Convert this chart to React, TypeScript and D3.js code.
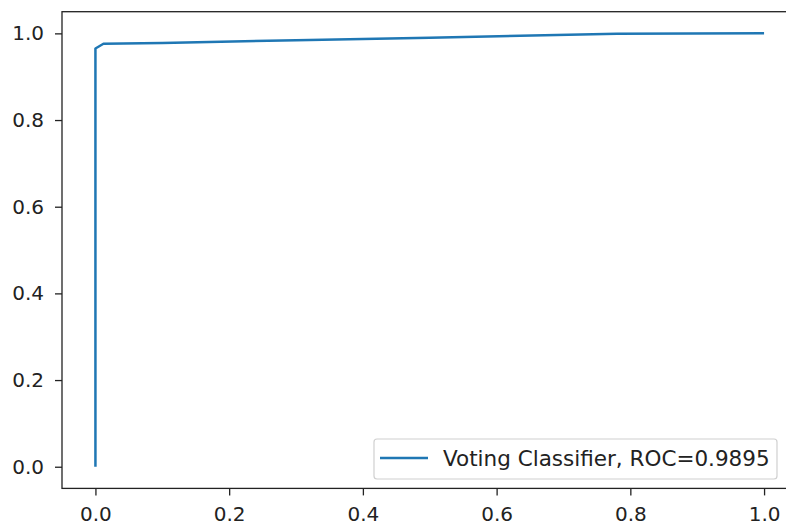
import React, { useEffect, useRef } from "react";
import * as d3 from "d3";

// ROC curve points
const fpr = [0, 0, 0.012, 0.1, 0.3, 0.5, 0.78, 1.0];
const tpr = [0, 0.965, 0.976, 0.978, 0.984, 0.99, 0.999, 1.0];
const ticks = [0, 0.2, 0.4, 0.6, 0.8, 1.0];
const label = "Voting Classifier, ROC=0.9895";

const W = 786;
const H = 527;
const FONT = "DejaVu Sans, sans-serif";

const App = () => {
  const svgRef = useRef<SVGSVGElement>(null);

  useEffect(() => {
    const svg = d3.select(svgRef.current);
    svg.selectAll("*").remove();

    const x = d3.scaleLinear().domain([-0.05, 1.05]).range([62, 797.5]);
    const y = d3.scaleLinear().domain([-0.05, 1.05]).range([488.4, 11.7]);

    const xAxis = d3
      .axisBottom(x)
      .tickValues(ticks)
      .tickFormat(d3.format(".1f"))
      .tickSize(7)
      .tickPadding(11);
    const yAxis = d3
      .axisLeft(y)
      .tickValues(ticks)
      .tickFormat(d3.format(".1f"))
      .tickSize(7)
      .tickPadding(11);

    const styleAxis = (g) => {
      g.select(".domain").remove();
      g.selectAll("line").attr("stroke", "#222").attr("stroke-width", 1.3);
      g.selectAll("text")
        .attr("fill", "#222")
        .style("font-family", FONT)
        .style("font-size", "20px");
    };

    svg
      .append("g")
      .attr("transform", `translate(0,${y.range()[0]})`)
      .call(xAxis)
      .call(styleAxis);
    svg
      .append("g")
      .attr("transform", `translate(${x.range()[0]},0)`)
      .call(yAxis)
      .call(styleAxis);

    // axes frame
    svg
      .append("rect")
      .attr("x", x.range()[0])
      .attr("y", y.range()[1])
      .attr("width", x.range()[1] - x.range()[0])
      .attr("height", y.range()[0] - y.range()[1])
      .attr("fill", "none")
      .attr("stroke", "#222")
      .attr("stroke-width", 1.3);

    const pts = fpr.map((f, i) => [f, tpr[i]] as [number, number]);
    const line = d3
      .line<[number, number]>()
      .x((d) => x(d[0]))
      .y((d) => y(d[1]));

    svg
      .append("path")
      .datum(pts)
      .attr("d", line)
      .attr("fill", "none")
      .attr("stroke", "#1f77b4")
      .attr("stroke-width", 2.5)
      .attr("stroke-linejoin", "round");

    // legend
    const lg = svg.append("g");
    lg.append("rect")
      .attr("x", 374)
      .attr("y", 439)
      .attr("width", 403)
      .attr("height", 40)
      .attr("rx", 3)
      .attr("fill", "white")
      .attr("fill-opacity", 0.8)
      .attr("stroke", "#d0d0d0")
      .attr("stroke-width", 1.2);
    lg.append("line")
      .attr("x1", 380)
      .attr("x2", 428)
      .attr("y1", 458)
      .attr("y2", 458)
      .attr("stroke", "#1f77b4")
      .attr("stroke-width", 2.5);
    lg.append("text")
      .attr("x", 443)
      .attr("y", 458)
      .attr("dy", "0.35em")
      .attr("fill", "#222")
      .style("font-family", FONT)
      .style("font-size", "21.5px")
      .text(label);
  }, []);

  return (
    <svg
      ref={svgRef}
      width={W}
      height={H}
      style={{ position: "absolute", left: 0, top: 0, background: "white" }}
    ></svg>
  );
};

export default App;
